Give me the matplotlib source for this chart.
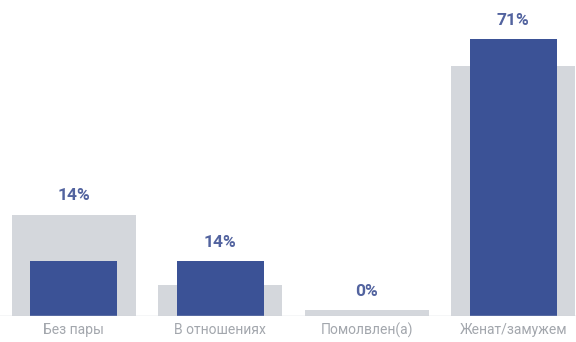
import matplotlib.pyplot as plt
import numpy as np

categories = ["Без пары", "В отношениях", "Помолвлен(а)", "Женат/замужем"]
blue_vals = [14, 14, 0, 71]      # this group
gray_vals = [26, 8, 1.5, 64]     # comparison (background bars)
labels = ["14%", "14%", "0%", "71%"]

plt.rcParams['font.family'] = ['Roboto', 'DejaVu Sans']

fig = plt.figure(figsize=(5.76, 3.42), dpi=100)
ax = fig.add_axes([0, 0.076, 1, 0.924])

x = np.arange(len(categories))
ax.bar(x, gray_vals, width=0.846, color="#d4d7dc", zorder=1)
ax.bar(x, blue_vals, width=0.594, color="#3b5296", zorder=2)
ax.axhline(0, color="#d0d3d8", lw=1, zorder=3)

for xi, b, g, lab in zip(x, blue_vals, gray_vals, labels):
    ax.annotate(lab, (xi, max(b, g)), xytext=(0, 8), textcoords="offset points",
                ha="center", va="bottom", fontsize=12.5, fontweight="bold",
                color="#52639f")

for xi, c in zip(x, categories):
    ax.text(xi, -3.6, c, ha="center", va="center", fontsize=10, color="#a3a7ad")

ax.set_xlim(-0.505, 3.43)
ax.set_ylim(0, 81)
ax.axis("off")
ax.set_clip_on(False)

fig.savefig("out.png", dpi=100)
